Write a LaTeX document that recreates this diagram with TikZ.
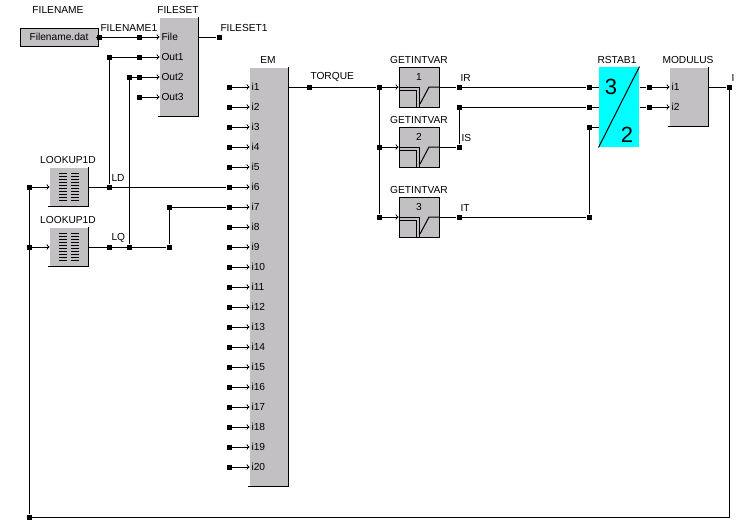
\documentclass[tikz,border=0pt]{standalone}
\usepackage{fontspec}
\setmainfont{Liberation Sans}
\definecolor{blockgray}{RGB}{195,192,196}
\definecolor{rstabcyan}{RGB}{0,255,255}
\tikzset{
  jn/.style={fill=black, inner sep=0pt, minimum size=5pt},
  lbl/.style={inner sep=0pt, font=\fontsize{10.2}{12}\selectfont},
  lblw/.style={lbl, anchor=west},
  blockbox/.style={fill=blockgray, inner sep=0pt, lbl,
    append after command={
      (\tikzlastnode.north east) edge[line width=1.3pt, line cap=rect] (\tikzlastnode.south east)
      ([xshift=-1pt]\tikzlastnode.south west) edge[line width=1.3pt, line cap=rect] (\tikzlastnode.south east)}},
  framebox/.style={fill=blockgray, draw=black, inner sep=0pt, lbl},
}
\begin{document}
\begin{tikzpicture}[x=1pt, y=-1pt, line width=1pt]
\useasboundingbox (0,0) rectangle (747,531);
% blocks
\node[framebox, minimum width=78pt, minimum height=18pt] (fname) at (59,37) {Filename.dat};
\node[blockbox, minimum width=38pt, minimum height=98pt] (fset) at (179,67) {};
\node[blockbox, minimum width=38pt, minimum height=418pt] (em) at (269,277) {};
\node[blockbox, minimum width=38pt, minimum height=38pt] (lu1) at (69,187) {};
\node[blockbox, minimum width=38pt, minimum height=38pt] (lu2) at (69,247) {};
\node[framebox, minimum width=40pt, minimum height=40pt] (g1) at (419,87) {};
\node[framebox, minimum width=40pt, minimum height=40pt] (g2) at (419,147) {};
\node[framebox, minimum width=40pt, minimum height=40pt] (g3) at (419,217) {};
\node[fill=rstabcyan, inner sep=0pt, minimum width=40pt, minimum height=80pt] (rs) at (619,107) {};
\node[blockbox, minimum width=38pt, minimum height=58pt] (mod) at (689,97) {};
% block titles
\node[lbl] (tfname) at (58,10) {FILENAME};
\node[lbl] (tfset) at (178,10) {FILESET};
\node[lbl] (tem) at (268,60) {EM};
\node[lbl] (tlu1) at (68,160) {LOOKUP1D};
\node[lbl] (tlu2) at (68,220) {LOOKUP1D};
\node[lbl] (tg1) at (419,60) {GETINTVAR};
\node[lbl] (tg2) at (419,120) {GETINTVAR};
\node[lbl] (tg3) at (419,190) {GETINTVAR};
\node[lbl] (trs) at (617,60) {RSTAB1};
\node[lbl] (tmod) at (688,60) {MODULUS};
% lookup icons
\foreach \b in {lu1,lu2} {
  \foreach \k in {0,...,9} {
    \draw ([xshift=-10pt, yshift=14pt-3*\k*1pt]\b.center) -- ++(8,0);
    \draw ([xshift=2pt, yshift=14pt-3*\k*1pt]\b.center) -- ++(8,0);
  }
}
% switch icons
\foreach \b/\t in {g1/1,g2/2,g3/3} {
  \node[lbl] (n\b) at ([yshift=10pt]\b.center) {\t};
  \draw (\b.west) -- ++(21,0) -- ++(0,20);
  \draw ([yshift=-3pt]\b.west) -- ++(18,0) -- ++(0,17);
  \draw ([xshift=1pt, yshift=-17pt]\b.center) -- ([xshift=10pt]\b.center) -- (\b.east);
}
% rstab
\draw (rs.north east) -- (rs.south west);
\node[inner sep=0pt, font=\fontsize{22}{24}\selectfont] (r3) at (611,87) {3};
\node[inner sep=0pt, font=\fontsize{22}{24}\selectfont] (r2) at (627,135) {2};
% junctions, fileset side
\node[jn] (f0) at (99,37) {};
\node[jn] (f1) at (139,37) {};
\node[jn] (f2) at (139,57) {};
\node[jn] (f3) at (139,77) {};
\node[jn] (f4) at (139,97) {};
\node[jn] (o1) at (109,57) {};
\node[jn] (o2) at (129,77) {};
\node[jn] (fo) at (219,37) {};
\node[lblw] (lf1) at (100,28) {FILENAME1};
\node[lblw] (lf2) at (220,28) {FILESET1};
\draw (fname.east) -- (f0);
\draw[->] (f0) -- (f0 -| fset.west);
\draw[->] (o1) -- (o1 -| fset.west);
\draw[->] (o2) -- (o2 -| fset.west);
\draw[->] (f4) -- (f4 -| fset.west);
\draw (fset.east |- fo) -- (fo);
\node[lblw] (pf) at (161,37) {File};
\node[lblw] (po1) at (161,57) {Out1};
\node[lblw] (po2) at (161,77) {Out2};
\node[lblw] (po3) at (161,97) {Out3};
% em ports
\foreach \i in {1,...,20} {
  \node[jn] (p\i) at (229,{67+20*\i}) {};
  \draw[->] (p\i) -- (p\i -| em.west);
  \node[lblw] (pl\i) at (251,{67+20*\i}) {i\i};
}
% lookup side
\node[jn] (l0) at (29,187) {};
\node[jn] (l1) at (29,247) {};
\node[jn] (l2) at (29,517) {};
\node[jn] (d1) at (109,187) {};
\node[jn] (q1) at (109,247) {};
\node[jn] (q2) at (129,247) {};
\node[jn] (q3) at (169,247) {};
\node[jn] (q4) at (169,207) {};
\node[lblw] (ld) at (111,178) {LD};
\node[lblw] (lq) at (111,238) {LQ};
\draw[->] (l0) -- (l0 -| lu1.west);
\draw[->] (l1) -- (l1 -| lu2.west);
\draw (l0) -- (l2);
\draw (lu1.east) -- (p6);
\draw (lu2.east) -- (q3);
\draw (d1) -- (o1);
\draw (q2) -- (o2);
\draw (q3) -- (q4) -- (p7);
% torque
\node[jn] (t1) at (309,87) {};
\node[jn] (t2) at (379,87) {};
\node[jn] (t3) at (379,147) {};
\node[jn] (t4) at (379,217) {};
\node[lblw] (ltq) at (310,77) {TORQUE};
\draw (em.east |- t1) -- (t2);
\draw (t2) -- (t4);
\draw[->] (t2) -- (g1.west);
\draw[->] (t3) -- (g2.west);
\draw[->] (t4) -- (g3.west);
% three phases
\node[jn] (a1) at (459,87) {};
\node[jn] (a2) at (589,87) {};
\node[jn] (b1) at (459,147) {};
\node[jn] (b2) at (459,107) {};
\node[jn] (b3) at (589,107) {};
\node[jn] (c1) at (459,217) {};
\node[jn] (c2) at (589,217) {};
\node[jn] (c3) at (589,127) {};
\node[lblw] (lir) at (460,78) {IR};
\node[lblw] (lis) at (461,138) {IS};
\node[lblw] (lit) at (460,208) {IT};
\draw (g1.east) -- (a1) -- (a2) -- (a2 -| rs.west);
\draw (g2.east) -- (b1) -- (b2) -- (b3) -- (b3 -| rs.west);
\draw (g3.east) -- (c1) -- (c2) -- (c3) -- (c3 -| rs.west);
% modulus
\node[jn] (m1) at (649,87) {};
\node[jn] (m2) at (649,107) {};
\node[jn] (mo) at (729,87) {};
\node[lblw] (li) at (731,78) {I};
\draw (rs.east |- m1) -- (m1);
\draw (rs.east |- m2) -- (m2);
\draw[->] (m1) -- (m1 -| mod.west);
\draw[->] (m2) -- (m2 -| mod.west);
\node[lblw] (mi1) at (671,87) {i1};
\node[lblw] (mi2) at (671,107) {i2};
\draw (mod.east |- mo) -- (mo);
\draw (mo) |- (l2);
\end{tikzpicture}
\end{document}
